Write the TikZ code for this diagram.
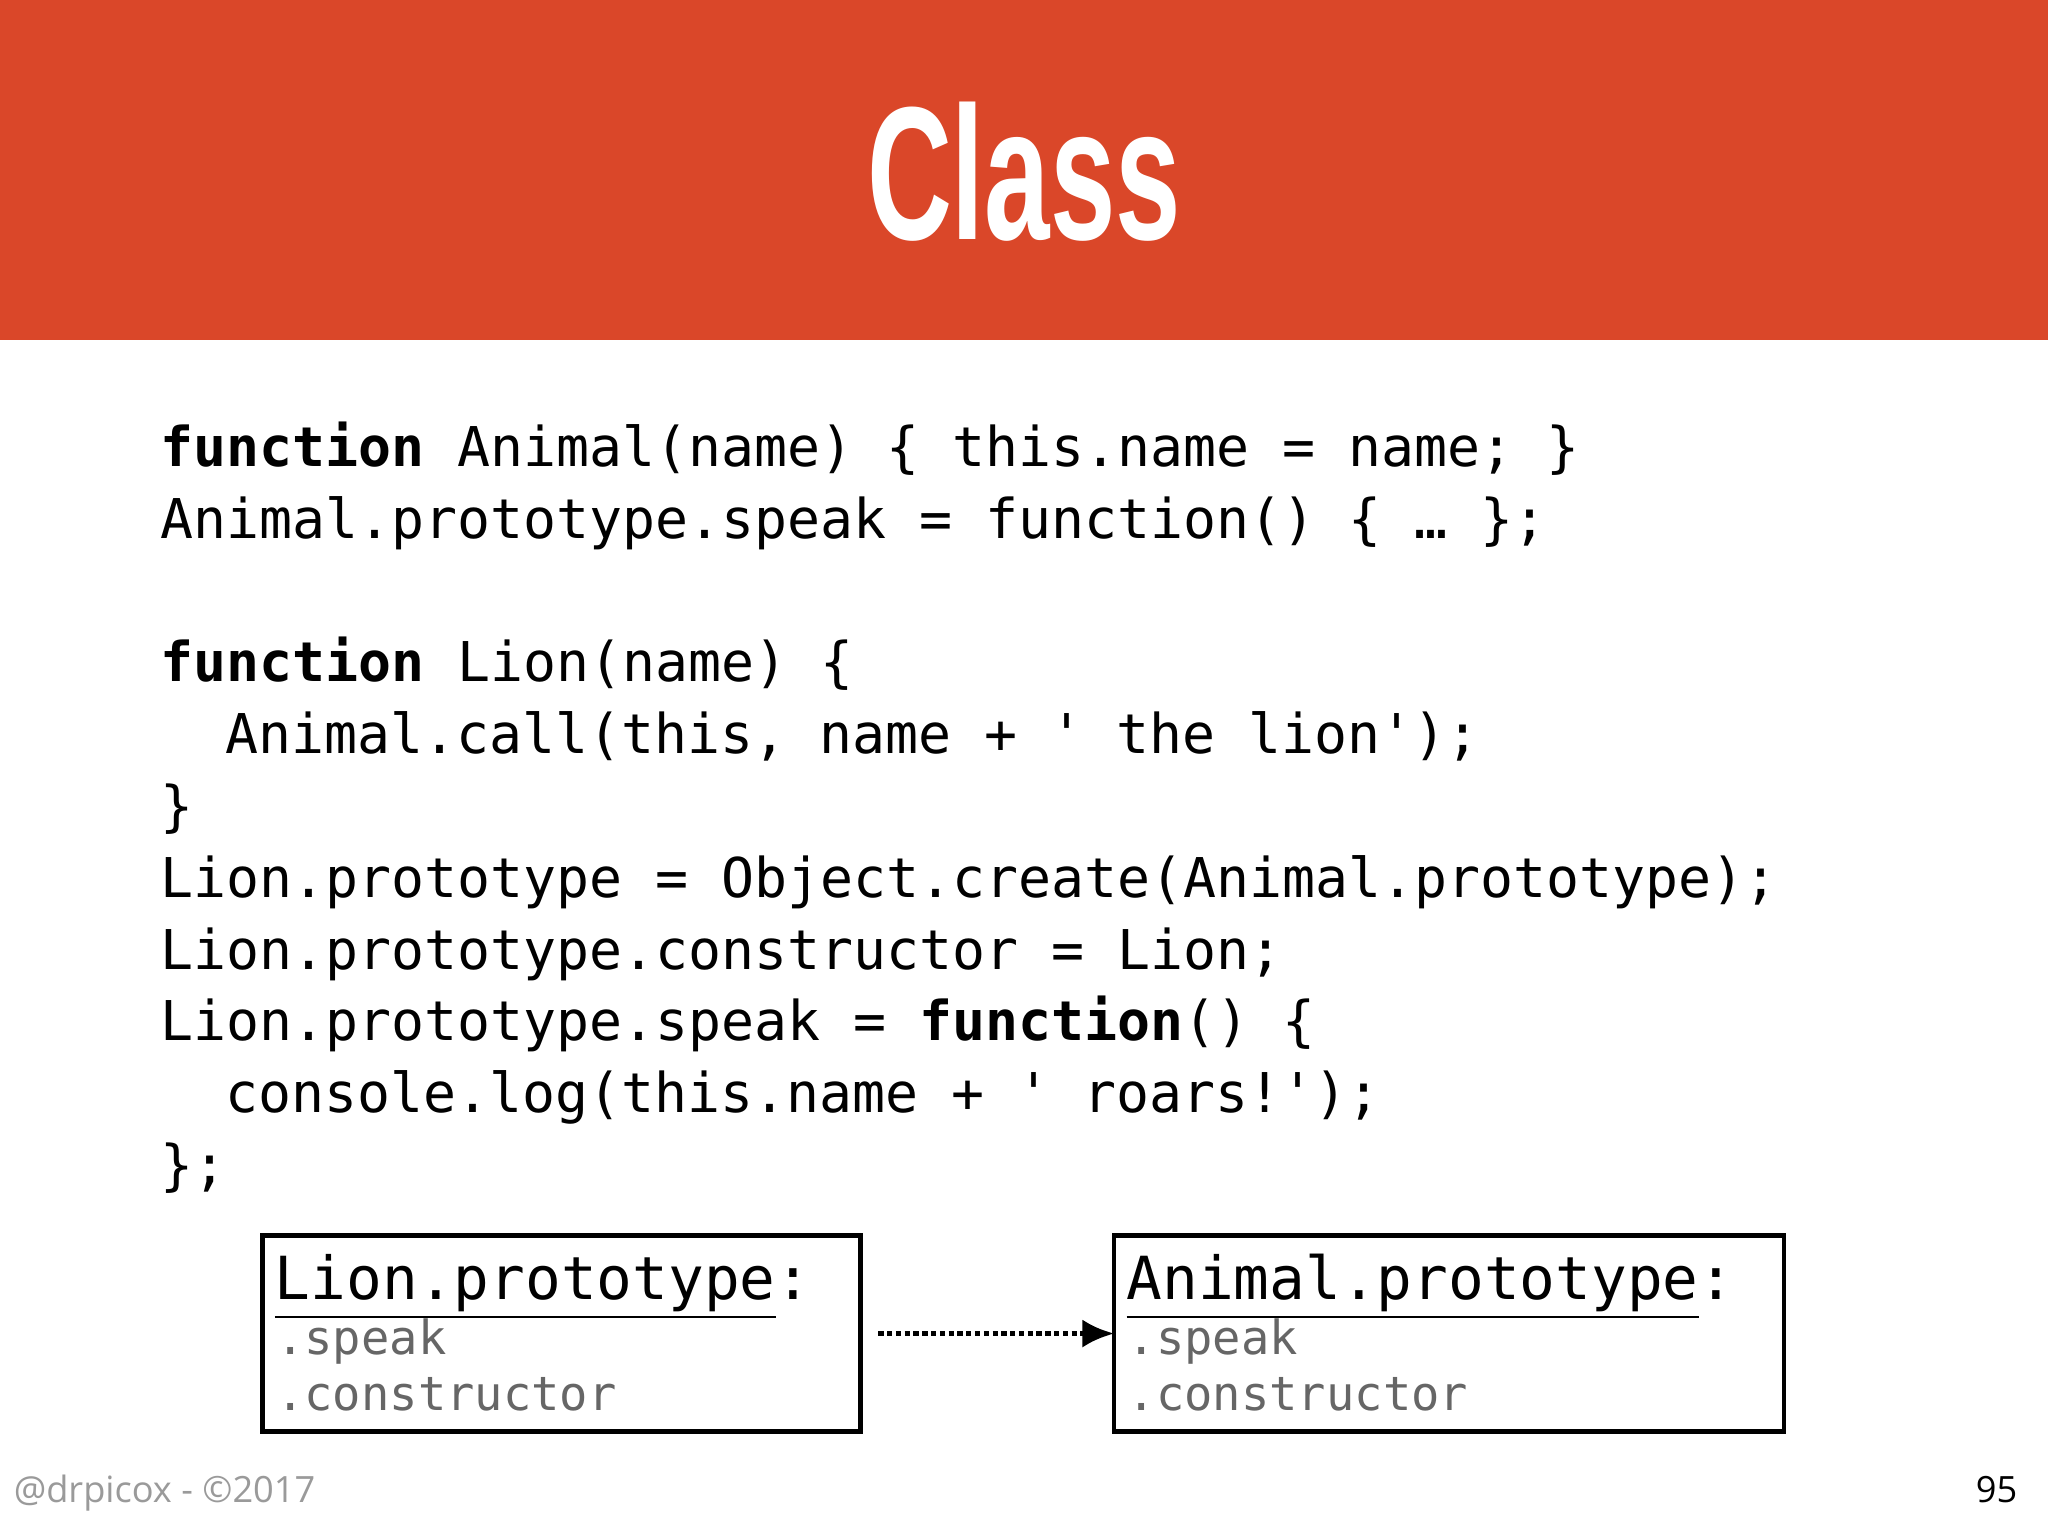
\documentclass[tikz,border=0pt]{standalone}
\usepackage{fontspec}
\setmainfont{Open Sans}
\setmonofont{DejaVu Sans Mono}
\newfontfamily\titlefont{Liberation Sans}
\usetikzlibrary{arrows.meta}
\definecolor{bar}{HTML}{DA4729}
\definecolor{dim}{HTML}{666666}
\definecolor{foot}{HTML}{9A9A9A}
\tikzset{
 code/.style={anchor=base west,inner sep=0pt,font=\fontsize{15.6}{18}\ttfamily},
 boxhead/.style={anchor=base west,inner sep=0pt,font=\fontsize{16.9}{20}\ttfamily},
 boxitem/.style={anchor=base west,inner sep=0pt,text=dim,font=\fontsize{13.4}{16}\ttfamily},
 objbox/.style={draw,line width=1.3pt},
}
\begin{document}
\begin{tikzpicture}[x=0.013061cm,y=-0.013061cm]
\useasboundingbox (0,0) rectangle (1568,1176);
\fill[white] (0,0) rectangle (1568,1176);
\fill[bar] (0,0) rectangle (1568,260);
\node[white,inner sep=0pt,anchor=base] (title) at (784,183) {\scalebox{0.62}[1]{\titlefont\bfseries\fontsize{54}{60}\selectfont Class}};
\node[code] (l1) at (122,357) {\textbf{function} Animal(name) \{ this.name = name; \}};
\node[code] (l2) at (122,412) {Animal.prototype.speak = function() \{ … \};};
\node[code] (l4) at (122,522) {\textbf{function} Lion(name) \{};
\node[code] (l5) at (172,577) {Animal.call(this, name + ' the lion');};
\node[code] (l6) at (122,632) {\}};
\node[code] (l7) at (122,687) {Lion.prototype = Object.create(Animal.prototype);};
\node[code] (l8) at (122,742) {Lion.prototype.constructor = Lion;};
\node[code] (l9) at (122,797) {Lion.prototype.speak = \textbf{function}() \{};
\node[code] (l10) at (172,852) {console.log(this.name + ' roars!');};
\node[code] (l11) at (122,907) {\};};
\draw[objbox] (201,946) rectangle (659,1096);
\draw[objbox] (853,946) rectangle (1366,1096);
\coordinate (lionR) at (659,1021);
\coordinate (animL) at (853,1021);
\node[boxhead] (lh) at (210,995) {\underline{Lion.prototype}:};
\node[boxitem] (ls) at (211,1037) {.speak};
\node[boxitem] (lc) at (211,1080) {.constructor};
\node[boxhead] (ah) at (862,995) {\underline{Animal.prototype}:};
\node[boxitem] (as) at (863,1037) {.speak};
\node[boxitem] (ac) at (863,1080) {.constructor};
\draw[densely dotted,line width=1.5pt,-{Latex[length=9pt,width=8pt]}] ([xshift=5pt]lionR) -- (animL);
\node[anchor=base west,inner sep=0pt,text=foot,font=\fontsize{10.3}{12}\selectfont] (foot) at (10,1150) {@drpicox - ©2017};
\node[anchor=base east,inner sep=0pt,font=\fontsize{10.3}{12}\selectfont] (page) at (1545,1150) {95};
\end{tikzpicture}
\end{document}
